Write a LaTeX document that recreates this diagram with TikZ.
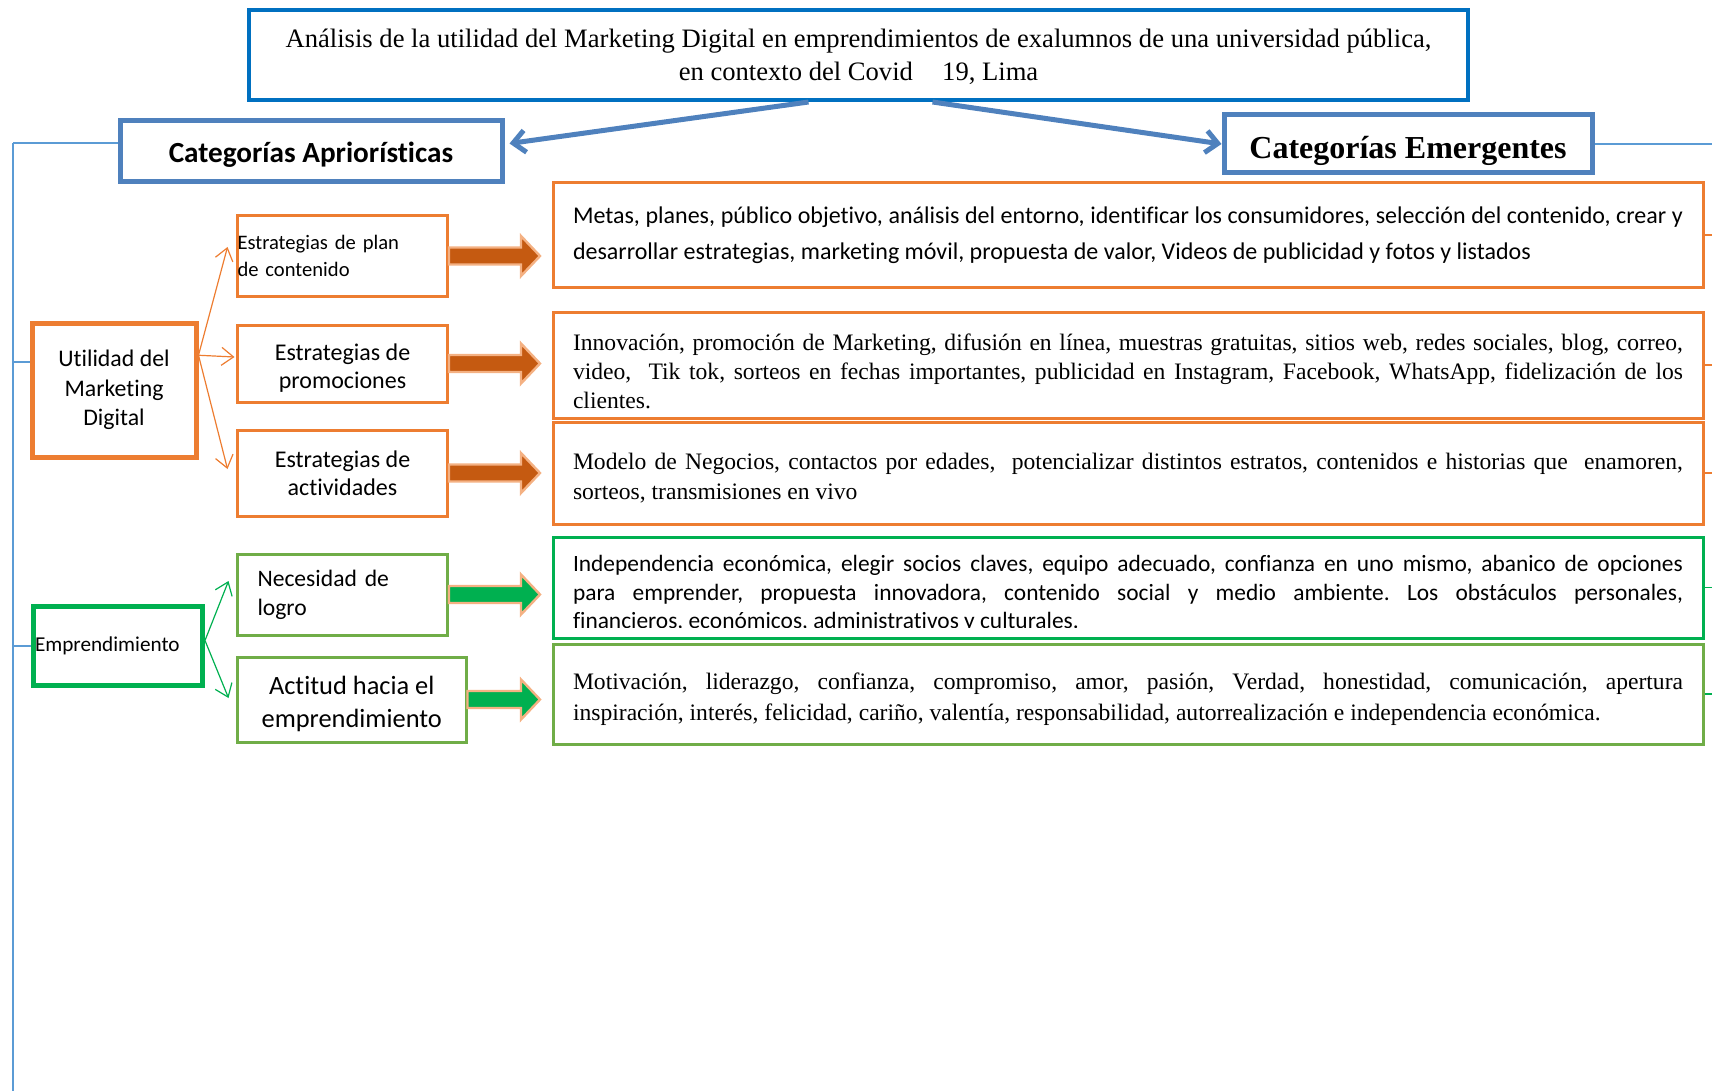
\documentclass[tikz,border=0pt]{standalone}
\usepackage{fontspec}
\setmainfont{Liberation Serif}
\newfontfamily\calibri[Ligatures=NoCommon]{Carlito}
\usetikzlibrary{calc,arrows.meta}

\definecolor{bline}{HTML}{5B9BD5}
\definecolor{catblue}{HTML}{4F81BD}
\definecolor{titleblue}{HTML}{0070C0}
\definecolor{orangeln}{HTML}{ED7D31}
\definecolor{darkorange}{HTML}{C55A11}
\definecolor{arrowedge}{HTML}{F4B183}
\definecolor{greenln}{HTML}{00B050}
\definecolor{lightgreen}{HTML}{70AD47}

\newcommand{\fs}[2]{\fontsize{#1}{#2}\selectfont}
% fat arrow from a box: start, length (px), fill
\newcommand{\fatarrow}[3]{%
  \path (#1) ++(#2,0) coordinate (tip);
  \filldraw[fill=#3, draw=arrowedge, line width=1.2pt]
    ($(#1)+(0,-8.5)$) -- ($(tip)+(-19,-8.5)$) -- ($(tip)+(-19,-20)$) -- (tip)
    -- ($(tip)+(-19,20)$) -- ($(tip)+(-19,8.5)$) -- ($(#1)+(0,8.5)$) -- cycle;}

\begin{document}
\frenchspacing
\begin{tikzpicture}[x=0.5pt,y=-0.5pt,
  catbox/.style={draw=catblue, line width=2.5pt, inner sep=0pt},
  frame/.style={draw, line width=1.5pt, minimum width=575pt},
  txt/.style={text width=555pt, inner sep=0pt, align=justify},
  smallbox/.style={draw, line width=1.5pt, minimum width=105pt, inner sep=0pt, align=center},
  thinarrow/.style={line width=0.6pt, -{Straight Barb[length=6pt,width=9pt]}}]
\useasboundingbox (0,0) rectangle (1712,1091);

% Title and the two categories
\node[draw=titleblue, line width=2pt, minimum width=609.5pt, minimum height=45pt,
  align=center, font=\fs{13.3}{16.5}] (title) at (858.5,55)
  {\rule{0pt}{11pt}Análisis de la utilidad del Marketing Digital en emprendimientos de exalumnos de una universidad pública,\\
   en contexto del Covid\hspace{1.1em}19, Lima};
\node[catbox, minimum width=191pt, minimum height=30.5pt, text height=13pt, text depth=1.6pt,
  font=\calibri\bfseries\fs{14.6}{16}] (apri) at (311,151.5) {Categorías Apriorísticas};
\node[catbox, minimum width=184pt, minimum height=29pt, text height=16pt, text depth=1.4pt,
  font=\bfseries\fs{16}{18}] (emer) at (1408,144) {Categorías Emergentes};
\draw[catblue, line width=2.5pt, -{Straight Barb[length=6pt,width=11pt]}]
  ($(title.south)+(-50,0)$) -- ($(apri.east)+(5,-8)$);
\draw[catblue, line width=2.5pt, -{Straight Barb[length=6pt,width=11pt]}]
  ($(title.south)+(74,0)$) -- (emer.west);

% Left side: categories and subcategories
\node[draw=orangeln, line width=2.5pt, minimum width=82pt, minimum height=67pt,
  inner sep=0pt, align=center, font=\calibri\fs{11.9}{14.75}]
  (u) at (114,390) {Utilidad del\\Marketing\\Digital};
\node[smallbox, draw=orangeln, minimum height=40pt, align=left, text width=105pt,
  font=\calibri\fs{10.3}{13.5}] (c1) at (342.5,256) {Estrategias de plan\\de contenido};
\node[smallbox, draw=orangeln, minimum height=38.5pt, font=\calibri\fs{12}{14}]
  (c2) at (342.5,363.5) {\rule{0pt}{13pt}Estrategias de\\promociones};
\node[smallbox, draw=orangeln, minimum height=43pt, font=\calibri\fs{12}{14}]
  (c3) at (342.5,473) {Estrategias de\\actividades};

\node[draw=greenln, line width=2.5pt, minimum width=84.75pt, minimum height=39.5pt,
  inner sep=0pt, align=left, text width=84.75pt, font=\calibri\fs{10.6}{12}]
  (e) at (117.75,645.5) {\hspace{1pt}Emprendimiento};
\node[smallbox, draw=lightgreen, minimum height=40.5pt, align=left, text width=85pt,
  font=\calibri\fs{11.8}{14.5}] (n1) at (342.5,594.5) {Necesidad de\\logro};
\node[smallbox, draw=lightgreen, minimum width=114.25pt, minimum height=42.5pt,
  font=\calibri\fs{13.2}{16.5}] (n2) at (351.75,699.5) {\rule{0pt}{14pt}Actitud hacia el\\emprendimiento};

% thin arrows to the subcategories
\coordinate (uo) at ($(u.north east)!0.25!(u.south east)$);
\draw[thinarrow, orangeln] (uo) -- ($(c1.west)+(-8.5,-9)$);
\draw[thinarrow, orangeln] (uo) -- ($(c2.west)+(-1.5,-6.5)$);
\draw[thinarrow, orangeln] (uo) -- ($(c3.west)+(-8.5,-4)$);
\draw[thinarrow, greenln] ($(e.east)+(0,-5)$) -- ($(n1.west)+(-7.5,-13.5)$);
\draw[thinarrow, greenln] ($(e.east)+(0,-5)$) -- ($(n2.west)+(-7.5,-1.5)$);

% Right side: emergent categories
\node[frame, draw=orangeln, minimum height=52pt] (t1) at (1128,235) {};
\node[txt, font=\calibri\fs{12}{18}] (t1txt) at (1128,235)
  {Metas, planes, público objetivo, análisis del entorno, identificar los consumidores, selección del contenido, crear y\linebreak desarrollar estrategias, marketing móvil, propuesta de valor, Videos de publicidad y fotos y listados};
\node[frame, draw=orangeln, minimum height=53pt] (t2) at (1128,365) {};
\node[txt, font=\fs{11.8}{14.5}] (t2txt) at (1128,371.5)
  {Innovación, promoción de Marketing, difusión en línea, muestras gratuitas, sitios web, redes sociales, blog, correo,\linebreak video,\ \ Tik tok, sorteos en fechas importantes, publicidad en Instagram, Facebook, WhatsApp, fidelización de los\linebreak clientes.};
\node[frame, draw=orangeln, minimum height=51pt] (t3) at (1128,473) {};
\node[txt, font=\fs{11.8}{15}] (t3txt) at (1128,478.5)
  {Modelo de Negocios, contactos por edades,\ \ potencializar distintos estratos, contenidos e historias que\ \ enamoren,\linebreak sorteos, transmisiones en vivo};
\node[frame, draw=greenln, minimum height=50.5pt] (t4) at (1128,587.5) {};
\begin{scope}
  \clip (t4.north west) rectangle ($(t4.south east)+(0,-12)$);
  \node[txt, font=\calibri\fs{11.7}{14.25}] (t4txt) at (1128,594)
    {Independencia económica, elegir socios claves, equipo adecuado, confianza en uno mismo, abanico de opciones\linebreak para emprender, propuesta innovadora, contenido social y medio ambiente. Los obstáculos personales,\linebreak financieros, económicos, administrativos y culturales.};
\end{scope}
\node[frame, draw=lightgreen, minimum height=50pt] (t5) at (1128,694) {};
\node[txt, font=\fs{11.8}{15.5}] (t5txt) at (1128,699.5)
  {Motivación, liderazgo, confianza, compromiso, amor, pasión, Verdad, honestidad, comunicación, apertura\linebreak inspiración, interés, felicidad, cariño, valentía, responsabilidad, autorrealización e independencia económica.};

% fat arrows
\fatarrow{c1.east}{91}{darkorange}
\fatarrow{c2.east}{91}{darkorange}
\fatarrow{c3.east}{91}{darkorange}
\fatarrow{n1.east}{91}{greenln}
\fatarrow{n2.east}{72.5}{greenln}

% blue frame lines
\coordinate (vtop) at (13,143);
\coordinate (vbot) at (13,1091);
\coordinate (redge) at (1712,0);
\coordinate (uin) at ($(u.north west)!0.3!(u.south west)$);
\draw[bline, line width=1pt] (vtop) -- (vbot);
\draw[bline, line width=1pt] (vtop) -- (vtop -| apri.west);
\draw[bline, line width=1pt] (uin -| vtop) -- (uin);
\draw[bline, line width=1pt] (e.west -| vtop) -- (e.west);
\draw[bline, line width=1pt] (emer.east) -- (emer.east -| redge);

% stubs on the right edge
\draw[orangeln, line width=0.6pt] (t1.east) -- (t1.east -| redge);
\draw[orangeln, line width=0.6pt] (t2.east) -- (t2.east -| redge);
\draw[orangeln, line width=0.6pt] (t3.east) -- (t3.east -| redge);
\draw[greenln, line width=0.6pt] (t4.east) -- (t4.east -| redge);
\draw[greenln, line width=0.6pt] (t5.east) -- (t5.east -| redge);
\end{tikzpicture}
\end{document}
